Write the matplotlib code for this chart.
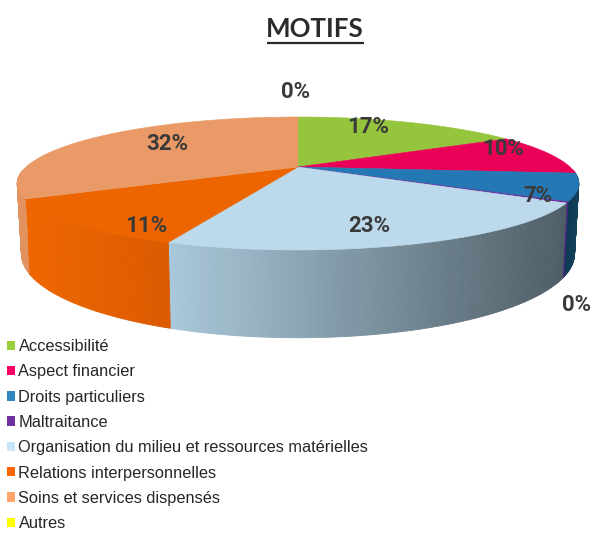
import numpy as np
import matplotlib
matplotlib.use("Agg")
import matplotlib.pyplot as plt
from matplotlib.patches import Polygon, Patch
from matplotlib.colors import to_rgb

categories = ["Accessibilité", "Aspect financier", "Droits particuliers", "Maltraitance",
              "Organisation du milieu et ressources matérielles",
              "Relations interpersonnelles", "Soins et services dispensés", "Autres"]
values = [16.51, 10.0, 6.6, 0.3, 22.51, 11.49, 32.49, 0.0]
top_colors = ["#95C43D", "#EB0058", "#2478B3", "#6A2C9C", "#BDD9EC", "#EC6500", "#E99A66", "#FFFF00"]
legend_colors = ["#9ACD3A", "#FF0066", "#2E86C1", "#7030A0", "#C6E5FA", "#FF6600", "#FFA56B", "#FFFF00"]
side_left = ["#95C43D", "#EB0058", "#0E3A55", "#4A2A80", "#AAC8DB", "#EE6600", "#E2925E", "#FFFF00"]
side_right = ["#95C43D", "#EB0058", "#15405C", "#4A2A80", "#4E5E66", "#DB5A00", "#E2925E", "#FFFF00"]
label_xy = [(368, 127), (503, 149), (538, 196), (577, 305), (369, 226), (146, 226), (167, 144), (296, 92)]

CX, CY, RX, A, K, D0, TAPER = 298.0, 167.0, 272.0, 62.4, -0.248, 66.0, 0.985


def rim(theta):
    v, u = np.sin(theta), -np.cos(theta)
    d = 1 + K * u
    return CX + RX * v / d, CY + A * u / d, u, d


fig = plt.figure(figsize=(5.92, 5.33), dpi=100)
ax = fig.add_axes([0, 0, 1, 1])
ax.set_xlim(0, 592)
ax.set_ylim(533, 0)
ax.axis("off")

edges = np.radians(np.concatenate([[0], np.cumsum(values)]) * 360 / sum(values))

# side wall
for i in range(len(values)):
    if values[i] <= 0:
        continue
    th = np.linspace(edges[i], edges[i + 1], max(int(values[i] * 6), 2) + 1)
    x, y, u, d = rim(th)
    xb, yb = CX + (x - CX) * TAPER, y + D0 / d
    x0, x1 = x.min(), x.max()
    cl, cr = np.array(to_rgb(side_left[i])), np.array(to_rgb(side_right[i]))
    for j in range(len(th) - 1):
        if u[j] < 0.05 and u[j + 1] < 0.05:
            continue
        t = (0.5 * (x[j] + x[j + 1]) - x0) / max(x1 - x0, 1)
        c = cl + (cr - cl) * t
        ax.add_patch(Polygon([(x[j], y[j]), (x[j + 1], y[j + 1]), (xb[j + 1], yb[j + 1]), (xb[j], yb[j])],
                             closed=True, fc=c, ec=c, lw=0.6, zorder=2))

# top face
for i in range(len(values)):
    if values[i] <= 0:
        continue
    th = np.linspace(edges[i], edges[i + 1], max(int(values[i] * 6), 2) + 1)
    x, y, _, _ = rim(th)
    pts = [(CX, CY)] + list(zip(x, y))
    ax.add_patch(Polygon(pts, closed=True, fc=top_colors[i], ec=top_colors[i], lw=0.4, zorder=3))

# value labels
for val, (lx, ly) in zip(values, label_xy):
    ax.text(lx, ly, f"{val:.0f}%", ha="center", va="center", fontsize=16, fontweight="bold",
            family=["Roboto", "DejaVu Sans"], color="#3A3A3A", zorder=5)

# title
ax.text(315, 29, "MOTIFS", ha="center", va="center", fontsize=18.6, fontweight="bold",
        family=["Lato", "DejaVu Sans"], color="#2B2B2B")
ax.plot([267, 364], [43, 43], color="#2B2B2B", lw=1.6, solid_capstyle="butt")

# legend
handles = [Patch(fc=c, ec="none") for c in legend_colors]
fig.legend(handles, categories, loc="upper left", bbox_to_anchor=(7 / 592, 1 - 339 / 533), frameon=False,
           prop={"family": ["Liberation Sans", "DejaVu Sans"], "size": 11.8}, labelcolor="#262626",
           handlelength=0.5, handleheight=0.5, handletextpad=0.2, labelspacing=0.63,
           borderaxespad=0, borderpad=0)

fig.savefig("out.png", dpi=100)
